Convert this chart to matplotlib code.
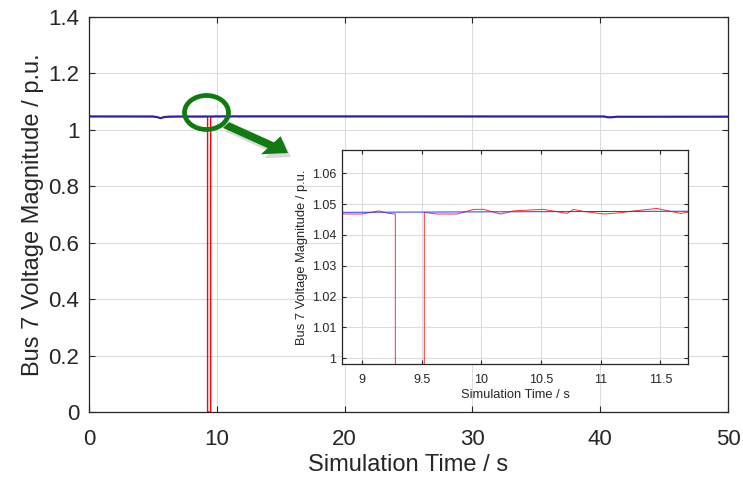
import matplotlib
matplotlib.use("Agg")
import matplotlib.pyplot as plt
from matplotlib.patches import Ellipse, FancyArrow
import numpy as np

plt.rcParams['font.family'] = ['Liberation Sans', 'DejaVu Sans']

# ---- data ----
blue_t = [0.0, 5.0, 5.3, 5.6, 5.9, 6.3, 7.0, 8.83, 11.73, 40.3, 40.6, 40.9, 41.3, 50.0]
blue_v = [1.0474, 1.0473, 1.0455, 1.0415, 1.0455, 1.0468, 1.0473, 1.04735, 1.0477,
          1.0474, 1.0445, 1.0445, 1.0466, 1.0468]

red_t = [0.0, 5.0, 5.3, 5.6, 5.9, 6.3, 7.0, 8.0, 8.832, 9.0, 9.14, 9.223, 9.279,
         9.28, 9.52, 9.522, 9.628, 9.796, 9.936, 10.02, 10.16, 10.27, 10.41, 10.52,
         10.72, 10.77, 10.86, 11.03, 11.16, 11.28, 11.47, 11.67, 11.73, 12.5,
         20.0, 30.0, 40.3, 40.6, 40.9, 41.3, 50.0]
red_v = [1.0476, 1.0474, 1.0455, 1.0415, 1.0455, 1.0468, 1.0472, 1.0470, 1.0468,
         1.0468, 1.0478, 1.0470, 1.0468, 0.0, 0.0, 1.0473, 1.0468, 1.0468, 1.0483,
         1.0483, 1.0468, 1.0478, 1.0481, 1.0483, 1.0470, 1.0483, 1.0476, 1.0468,
         1.0472, 1.0478, 1.0486, 1.0470, 1.0474, 1.0476, 1.0475, 1.0474, 1.0474,
         1.0445, 1.0445, 1.0466, 1.0468]

main_xticks = [0, 10, 20, 30, 40, 50]
main_yticks = [0, 0.2, 0.4, 0.6, 0.8, 1.0, 1.2, 1.4]
main_yticklabels = ['0', '0.2', '0.4', '0.6', '0.8', '1', '1.2', '1.4']
inset_xticks = [9, 9.5, 10, 10.5, 11, 11.5]
inset_xticklabels = ['9', '9.5', '10', '10.5', '11', '11.5']
inset_yticks = [1.00, 1.01, 1.02, 1.03, 1.04, 1.05, 1.06]
inset_yticklabels = ['1', '1.01', '1.02', '1.03', '1.04', '1.05', '1.06']

xlabel = 'Simulation Time / s'
ylabel = 'Bus 7 Voltage Magnitude / p.u.'

W, H = 743, 479
fig = plt.figure(figsize=(W / 100, H / 100), dpi=100)

def px_axes(l, t, r, b):
    return fig.add_axes([l / W, 1 - b / H, (r - l) / W, (b - t) / H])

txt_col = '#262626'
grid_col = '#dcdcdc'

def style(ax, fs):
    for s in ax.spines.values():
        s.set_color(txt_col)
        s.set_linewidth(0.9)
    ax.tick_params(direction='in', top=True, right=True, colors=txt_col,
                   labelsize=fs, length=4, width=0.8, labelcolor=txt_col)
    ax.grid(True, color=grid_col, linewidth=0.8)
    ax.set_axisbelow(True)

# ---- main axes ----
ax = px_axes(89, 17, 728, 412)
ax.plot(red_t, red_v, color='red', lw=1.0)
ax.plot(blue_t, blue_v, color='#2a1fb0', lw=1.5)
ax.set_xlim(0, 50)
ax.set_ylim(0, 1.4)
ax.set_xticks(main_xticks)
ax.set_yticks(main_yticks)
ax.set_yticklabels(main_yticklabels)
style(ax, 16)
ax.tick_params(axis='x', pad=12)
ax.tick_params(axis='y', pad=7)
ax.set_xlabel(xlabel, fontsize=17, color=txt_col, labelpad=3)
ax.set_ylabel(ylabel, fontsize=17, color=txt_col, labelpad=3)

# ---- inset axes ----
ins = px_axes(342, 150, 688, 364)
ins.set_facecolor('white')
ins.plot(red_t, red_v, color='#ff3030', lw=0.7)
ins.plot(blue_t, blue_v, color='#3030ff', lw=0.7)
ins.set_xlim(8.832, 11.732)
ins.set_ylim(0.99815, 1.06756)
ins.set_xticks(inset_xticks)
ins.set_xticklabels(inset_xticklabels)
ins.set_yticks(inset_yticks)
ins.set_yticklabels(inset_yticklabels)
style(ins, 9)
ins.tick_params(length=3)
ins.tick_params(axis='x', pad=7)
ins.tick_params(axis='y', pad=4)
ins.set_xlabel(xlabel, fontsize=9.3, color=txt_col, labelpad=2)
ins.set_ylabel(ylabel, fontsize=9.3, color=txt_col, labelpad=3)

# ---- annotation: ellipse + arrow (figure pixel coords) ----
def fx(x):
    return x / W

def fy(y):
    return 1 - y / H

ell = Ellipse((fx(206.5), fy(112.5)), 44 / W, 34 / H, transform=fig.transFigure,
              fill=False, edgecolor='#0f7a0f', lw=3.4, zorder=10)
fig.add_artist(ell)

x0, y0 = 226, 125
x1, y1 = 288, 153
for dx, dy, col, a in [(3, 4, '#000000', 0.15), (0, 0, '#117a11', 1.0)]:
    arr = FancyArrow(fx(x0 + dx), fy(y0 + dy), fx(x1) - fx(x0), fy(y1) - fy(y0),
                     width=7 / H, head_width=22 / H, head_length=21 / W,
                     length_includes_head=True, transform=fig.transFigure,
                     color=col, alpha=a, lw=0, zorder=9)
    fig.add_artist(arr)

fig.savefig('out.png', dpi=100)
